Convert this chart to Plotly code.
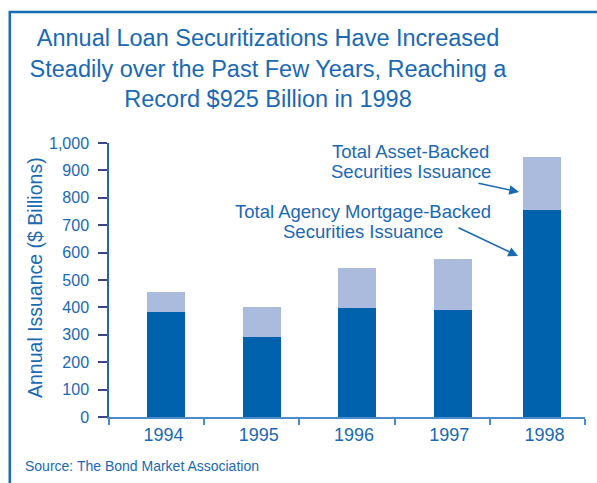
import plotly.graph_objects as go

# Annual issuance, $ billions
years = ["1994", "1995", "1996", "1997", "1998"]
agency_mbs = [384, 293, 398, 392, 755]
asset_backed = [73, 110, 147, 186, 195]
y_ticks = [0, 100, 200, 300, 400, 500, 600, 700, 800, 900, 1000]
y_tick_text = ["0", "100", "200", "300", "400", "500", "600", "700", "800", "900", "1,000"]

W, H = 597, 483
L, R, T, B = 109, 12, 143, 66
PW, PH = W - L - R, H - T - B

BLUE_TEXT = "#1a69b3"
DARK = "#0062ad"
LIGHT = "#abbbdd"
FONT = "Liberation Sans, Arial, sans-serif"


def px(x):
    return (x - L) / PW


def py(y):
    return (H - B - y) / PH


bar_offset = [-0.10, -0.09, -0.095, -0.086, -0.15]

fig = go.Figure()
fig.add_trace(go.Bar(x=years, y=agency_mbs, marker_color=DARK, width=0.4,
                     offset=bar_offset, marker_line_width=0,
                     name="Total Agency Mortgage-Backed Securities Issuance"))
fig.add_trace(go.Bar(x=years, y=asset_backed, marker_color=LIGHT, width=0.4,
                     offset=bar_offset, marker_line_width=0,
                     name="Total Asset-Backed Securities Issuance"))

annotations = []


def label(text, xc, yc, size=18.5, anchor="center"):
    annotations.append(dict(text=text, x=px(xc), y=py(yc), xref="paper", yref="paper",
                            xanchor=anchor, yanchor="middle", showarrow=False,
                            font=dict(family=FONT, size=size, color=BLUE_TEXT)))


label("Total Asset-Backed", 410, 151)
label("Securities Issuance", 411, 171)
label("Total Agency Mortgage-Backed", 363, 211)
label("Securities Issuance", 363, 231)
label("Source: The Bond Market Association", 23, 466, size=14, anchor="left")

# arrows
for tip, tail in [((519, 192), (477, 183)), ((518, 256), (457, 227))]:
    annotations.append(dict(x=px(tip[0]), y=py(tip[1]), xref="paper", yref="paper",
                            ax=tail[0] - tip[0], ay=tail[1] - tip[1], text="",
                            showarrow=True, arrowhead=2, arrowsize=1.3, arrowwidth=1.5,
                            arrowcolor=BLUE_TEXT))

# y-axis title
annotations.append(dict(text="Annual Issuance ($ Billions)", x=px(35), y=py(278),
                        xref="paper", yref="paper", textangle=-90, showarrow=False,
                        xanchor="center", yanchor="middle",
                        font=dict(family=FONT, size=19.5, color=BLUE_TEXT)))

fig.update_layout(
    width=W, height=H,
    margin=dict(l=L, r=R, t=T, b=B, autoexpand=False),
    paper_bgcolor="white", plot_bgcolor="white",
    barmode="stack", showlegend=False,
    title=dict(text="Annual Loan Securitizations Have Increased<br>"
                    "Steadily over the Past Few Years, Reaching a<br>"
                    "Record $925 Billion in 1998",
               x=268 / W, xanchor="center", xref="container",
               y=1 - 46 / H, yanchor="top", yref="container",
               font=dict(family=FONT, size=23.5, color=BLUE_TEXT)),
    font=dict(family=FONT, color=BLUE_TEXT),
    xaxis=dict(type="category", range=[-0.5, 4.5], tickson="boundaries",
               showline=True, linecolor="#4a8ccc", linewidth=1.5,
               ticks="outside", ticklen=6, tickcolor="#4a8ccc", tickwidth=1.5,
               ticklabelshift=7, ticklabelstandoff=1,
               tickfont=dict(family=FONT, size=18, color=BLUE_TEXT),
               showgrid=False, zeroline=False, fixedrange=True),
    yaxis=dict(range=[0, 1000], tickvals=y_ticks, ticktext=y_tick_text,
               showline=True, linecolor="#2466ae", linewidth=1.5,
               ticks="outside", ticklen=9, tickcolor="#3d4585", tickwidth=1.5,
               ticklabelstandoff=6,
               tickfont=dict(family=FONT, size=16, color=BLUE_TEXT),
               showgrid=False, zeroline=False, fixedrange=True),
    annotations=annotations,
    shapes=[dict(type="rect", xref="paper", yref="paper",
                 x0=px(9.8), y0=py(520), x1=px(640), y1=py(12),
                 line=dict(color="#1a69b3", width=2.5), fillcolor="rgba(0,0,0,0)",
                 layer="below")],
)

fig.write_html("out.html")
